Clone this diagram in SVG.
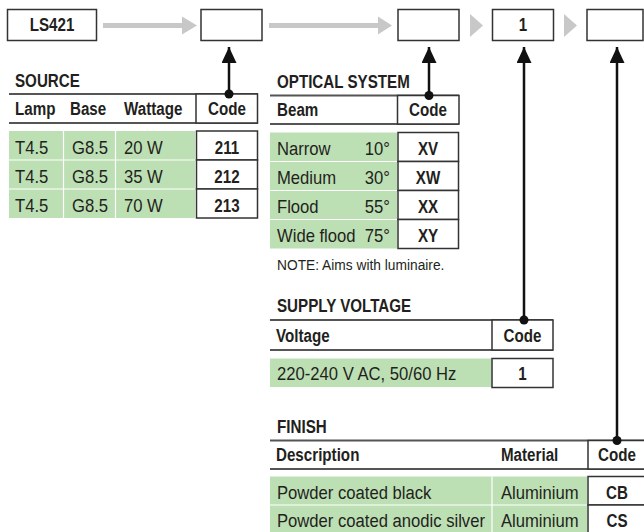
<svg xmlns="http://www.w3.org/2000/svg" width="644" height="532" viewBox="0 0 644 532">
<defs>
<style>
text{font-family:"Liberation Sans",Arial,sans-serif;font-size:18.5px;fill:#231f20;transform-box:fill-box;transform-origin:0% 50%;transform:scaleX(0.9)}
.b{font-weight:bold;transform:scaleX(0.82)}
.m{text-anchor:middle;transform-origin:50% 50%}
.e{text-anchor:end;transform-origin:100% 50%}
.note{font-size:14.5px;transform:scaleX(0.95)}
.box{fill:#fff;stroke:#333;stroke-width:1.5}
.rule{stroke:#555;stroke-width:2;fill:none}
.green{fill:#bddfb4}
.sep{stroke:#fff;stroke-width:1.2}
.flow{fill:#c8c8c8}
.conn{stroke:#111;stroke-width:2.5;fill:none}
</style>
<marker id="head" markerUnits="userSpaceOnUse" markerWidth="17" markerHeight="15" refX="16" refY="7.5" orient="auto">
<path d="M0,0 L16,7.5 L0,15 Z" fill="#111"/>
</marker>
<marker id="dot" markerUnits="userSpaceOnUse" markerWidth="10" markerHeight="10" refX="5" refY="5" orient="auto">
<circle cx="5" cy="5" r="4.5" fill="#111"/>
</marker>
</defs>

<g id="flow">
<rect class="flow" x="103" y="23" width="80" height="5"/>
<polygon class="flow" points="182,16.5 197,25.5 182,34.5"/>
<rect class="flow" x="269" y="23" width="110" height="5"/>
<polygon class="flow" points="378,16.5 392,25.5 378,34.5"/>
<polygon class="flow" points="470,14 483,25.5 470,37"/>
<polygon class="flow" points="564,14 577,25.5 564,37"/>
</g>

<g id="node-ls421">
<rect class="box" x="7.5" y="9.5" width="89" height="31"/>
<text class="b m" x="52" y="31.5">LS421</text>
</g>
<g id="node-source-code"><rect class="box" x="201" y="9.5" width="61" height="31"/></g>
<g id="node-optic-code"><rect class="box" x="398" y="9.5" width="61" height="31"/></g>
<g id="node-voltage-code">
<rect class="box" x="492.5" y="9.5" width="61" height="31"/>
<text class="b m" x="523" y="31.5">1</text>
</g>
<g id="node-finish-code"><rect class="box" x="587" y="9.5" width="56" height="31"/></g>

<g id="table-source">
<text class="b" x="15" y="87.5">SOURCE</text>
<line class="rule" x1="9" y1="94" x2="258" y2="94"/>
<line class="rule" x1="9" y1="123" x2="258" y2="123"/>
<rect class="box" x="196" y="94" width="61.5" height="29"/>
<text class="b" x="15" y="115.5">Lamp</text>
<text class="b" x="70" y="115.5">Base</text>
<text class="b" x="124" y="115.5">Wattage</text>
<text class="b m" x="227" y="115.5">Code</text>
<rect class="green" x="9" y="131" width="186" height="87"/>
<line class="sep" x1="63.5" y1="131" x2="63.5" y2="218"/>
<line class="sep" x1="115.5" y1="131" x2="115.5" y2="218"/>
<line class="sep" x1="9" y1="160" x2="195" y2="160"/>
<line class="sep" x1="9" y1="189" x2="195" y2="189"/>
<rect class="box" x="196.5" y="131" width="61" height="29"/>
<rect class="box" x="196.5" y="160" width="61" height="29"/>
<rect class="box" x="196.5" y="189" width="61" height="29"/>
<text x="15" y="154">T4.5</text><text x="72" y="154">G8.5</text><text x="124" y="154">20 W</text><text class="b m" x="227" y="154">211</text>
<text x="15" y="183">T4.5</text><text x="72" y="183">G8.5</text><text x="124" y="183">35 W</text><text class="b m" x="227" y="183">212</text>
<text x="15" y="212">T4.5</text><text x="72" y="212">G8.5</text><text x="124" y="212">70 W</text><text class="b m" x="227" y="212">213</text>
</g>

<g id="table-optical">
<text class="b" x="277" y="88.5">OPTICAL SYSTEM</text>
<line class="rule" x1="270" y1="95.5" x2="459" y2="95.5"/>
<line class="rule" x1="270" y1="124" x2="459" y2="124"/>
<rect class="box" x="397.5" y="95.5" width="61.5" height="28.5"/>
<text class="b" x="277" y="116.5">Beam</text>
<text class="b m" x="428" y="116.5">Code</text>
<rect class="green" x="270" y="132.5" width="127" height="116"/>
<line class="sep" x1="270" y1="161.5" x2="397" y2="161.5"/>
<line class="sep" x1="270" y1="190.5" x2="397" y2="190.5"/>
<line class="sep" x1="270" y1="219.5" x2="397" y2="219.5"/>
<rect class="box" x="398" y="132.5" width="60.5" height="29"/>
<rect class="box" x="398" y="161.5" width="60.5" height="29"/>
<rect class="box" x="398" y="190.5" width="60.5" height="29"/>
<rect class="box" x="398" y="219.5" width="60.5" height="29"/>
<text x="277" y="155.5">Narrow</text><text class="e" x="390" y="155.5">10°</text><text class="b m" x="428" y="155.5">XV</text>
<text x="277" y="184.5">Medium</text><text class="e" x="390" y="184.5">30°</text><text class="b m" x="428" y="184.5">XW</text>
<text x="277" y="213.5">Flood</text><text class="e" x="390" y="213.5">55°</text><text class="b m" x="428" y="213.5">XX</text>
<text x="277" y="242.5">Wide flood</text><text class="e" x="390" y="242.5">75°</text><text class="b m" x="428" y="242.5">XY</text>
<text class="note" x="277" y="270">NOTE: Aims with luminaire.</text>
</g>

<g id="table-voltage">
<text class="b" x="277" y="312">SUPPLY VOLTAGE</text>
<line class="rule" x1="270" y1="320" x2="553" y2="320"/>
<line class="rule" x1="270" y1="350" x2="553" y2="350"/>
<rect class="box" x="492" y="320" width="61" height="30"/>
<text class="b" x="276" y="342">Voltage</text>
<text class="b m" x="522.5" y="342">Code</text>
<rect class="green" x="270" y="358.5" width="221.5" height="28.5"/>
<rect class="box" x="492" y="358.5" width="61" height="29"/>
<text x="277" y="380.5">220-240 V AC, 50/60 Hz</text>
<text class="b m" x="522.5" y="380.5">1</text>
</g>

<g id="table-finish">
<text class="b" x="277" y="433">FINISH</text>
<line class="rule" x1="270" y1="440.5" x2="646" y2="440.5"/>
<line class="rule" x1="270" y1="469" x2="646" y2="469"/>
<rect class="box" x="588" y="440.5" width="62" height="28.5"/>
<text class="b" x="276" y="461.5">Description</text>
<text class="b" x="501" y="461.5">Material</text>
<text class="b m" x="617" y="461.5">Code</text>
<rect class="green" x="270" y="476.5" width="317" height="56"/>
<line class="sep" x1="492" y1="476.5" x2="492" y2="532"/>
<line class="sep" x1="270" y1="505" x2="587" y2="505"/>
<rect class="box" x="588" y="476.5" width="62" height="28.5"/>
<rect class="box" x="588" y="505" width="62" height="30"/>
<text x="277" y="499.5">Powder coated black</text><text x="501" y="499.5">Aluminium</text><text class="b m" x="617" y="499.5">CB</text>
<text x="277" y="527.5">Powder coated anodic silver</text><text x="501" y="527.5">Aluminium</text><text class="b m" x="617" y="527.5">CS</text>
</g>

<g id="connectors">
<line class="conn" x1="229" y1="94" x2="229" y2="47" marker-start="url(#dot)" marker-end="url(#head)"/>
<line class="conn" x1="429" y1="95.5" x2="429" y2="47" marker-start="url(#dot)" marker-end="url(#head)"/>
<line class="conn" x1="524" y1="320" x2="524" y2="47" marker-start="url(#dot)" marker-end="url(#head)"/>
<line class="conn" x1="617" y1="440.5" x2="617" y2="47" marker-start="url(#dot)" marker-end="url(#head)"/>
</g>
</svg>
